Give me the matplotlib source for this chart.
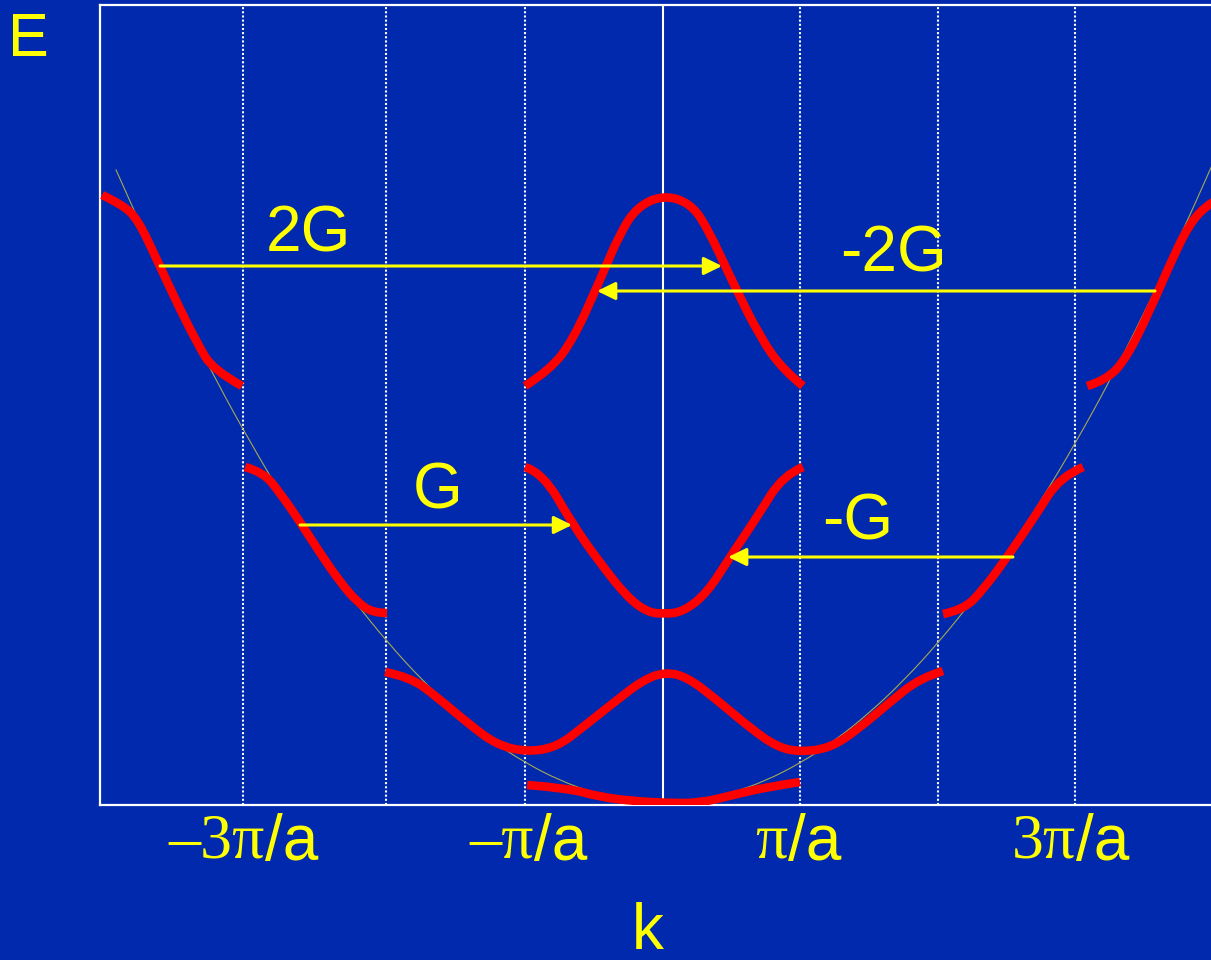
import matplotlib
matplotlib.use("Agg")
import matplotlib.pyplot as plt
import matplotlib.transforms as mtransforms
from matplotlib.path import Path
from matplotlib.patches import PathPatch

# k in units of pi/a, E in arbitrary units (free electron: E ~ k^2)
bg = '#0029AD'
red = '#FF0000'
yellow = '#FFFF00'

# free electron parabola
par_k = [-3.98, -3.75, -3.5, -3.25, -3.0, -2.75, -2.5, -2.25, -2.0, -1.75, -1.5, -1.25, -1.0,
         -0.75, -0.5, -0.25, 0.0, 0.25, 0.5, 0.75, 1.0, 1.25, 1.5, 1.75, 2.0, 2.25, 2.5,
         2.75, 3.0, 3.25, 3.5, 3.75, 4.0]
par_E = [15.84, 14.06, 12.25, 10.56, 9.0, 7.56, 6.25, 5.06, 4.0, 3.06, 2.25, 1.56, 1.0,
         0.56, 0.25, 0.06, 0.0, 0.06, 0.25, 0.56, 1.0, 1.56, 2.25, 3.06, 4.0, 5.06, 6.25,
         7.56, 9.0, 10.56, 12.25, 14.06, 16.0]

# band segments
b1_k = [-0.989, -0.698, -0.458, -0.218, 0.029, 0.269, 0.509, 0.756, 0.996]
b1_E = [0.45, 0.375, 0.15, 0.05, 0.0, 0.0, 0.2, 0.4, 0.525]

b2_k = [-2.022, -1.84, -1.644, -1.404, -1.207, -0.989, -0.771, -0.582, -0.335, -0.145, 0.015,
        0.175, 0.393, 0.633, 0.829, 0.996, 1.215, 1.411, 1.651, 1.869, 2.036]
b2_E = [3.275, 3.15, 2.65, 1.95, 1.45, 1.275, 1.4, 1.9, 2.575, 3.075, 3.275,
        3.15, 2.575, 1.875, 1.4, 1.275, 1.375, 1.825, 2.525, 3.125, 3.3]

b3l_k = [-3.04, -2.909, -2.785, -2.625, -2.495, -2.349, -2.225, -2.109, -2.007]
b3l_E = [8.4, 8.275, 7.75, 6.95, 6.25, 5.525, 5.025, 4.75, 4.75]
b3m_k = [-1.004, -0.873, -0.655, -0.458, -0.262, -0.116, 0.0, 0.145, 0.32, 0.487, 0.684, 0.873, 1.018]
b3m_E = [8.4, 8.25, 6.95, 6.0, 5.15, 4.775, 4.725, 4.775, 5.25, 6.15, 7.15, 8.2, 8.4]
b3r_k = [2.036, 2.182, 2.327, 2.524, 2.72, 2.887, 3.055]
b3r_E = [4.725, 4.825, 5.325, 6.25, 7.25, 8.15, 8.4]

b4l_k = [-4.08, -3.927, -3.818, -3.68, -3.535, -3.389, -3.273, -3.062]
b4l_E = [15.2, 14.95, 14.575, 13.575, 12.5, 11.5, 10.825, 10.425]
b4m_k = [-1.004, -0.822, -0.655, -0.458, -0.313, -0.189, 0.0, 0.196, 0.32, 0.509, 0.705, 0.873, 1.018]
b4m_E = [10.425, 10.825, 11.575, 13.075, 14.25, 14.9, 15.2, 15.0, 14.4, 13.0, 11.65, 10.825, 10.425]
b4r_k = [3.084, 3.229, 3.375, 3.542, 3.709, 3.833, 3.956, 4.015]
b4r_E = [10.425, 10.575, 11.15, 12.325, 13.65, 14.5, 14.95, 15.05]

bands = [(b1_k, b1_E), (b2_k, b2_E), (b3l_k, b3l_E), (b3m_k, b3m_E), (b3r_k, b3r_E),
         (b4l_k, b4l_E), (b4m_k, b4m_E), (b4r_k, b4r_E)]

# reciprocal lattice shifts: (start k, end k, E, label, label k, label E)
arrows = [(-3.658, 0.429, 13.425, '2G', -2.582, 14.2),
          (3.578, -0.48, 12.8, '-2G', 1.673, 13.7),
          (-2.64, -0.662, 6.95, 'G', -1.636, 7.775),
          (2.545, 0.473, 6.15, '-G', 1.418, 7.0)]

zone_lines = [-3.055, -2.015, -1.004, 0.996, 1.996, 2.996]
tick_serif = ['\u20133\u03c0', '\u2013\u03c0', '\u03c0', '3\u03c0']
tick_split = [-2.895, -0.94, 0.905, 3.0]


def smooth_path(k, E):
    # quadratic spline path through the read points (drawn by matplotlib)
    pts = list(zip(k, E))
    verts = [pts[0]]
    codes = [Path.MOVETO]
    for i in range(1, len(pts) - 1):
        if i < len(pts) - 2:
            end = ((pts[i][0] + pts[i + 1][0]) / 2, (pts[i][1] + pts[i + 1][1]) / 2)
        else:
            end = pts[-1]
        verts += [pts[i], end]
        codes += [Path.CURVE3, Path.CURVE3]
    if len(pts) == 2:
        verts.append(pts[1])
        codes.append(Path.LINETO)
    return Path(verts, codes)


fig = plt.figure(figsize=(12.11, 9.6), dpi=100, facecolor=bg)
ax = fig.add_axes([100 / 1211, 155 / 960, 1111 / 1211, 800 / 960])
ax.set_facecolor(bg)
ax.set_xlim(-4.095, 3.985)
ax.set_ylim(-0.05, 19.95)

for s in ['left', 'top', 'bottom']:
    ax.spines[s].set_color('white')
    ax.spines[s].set_linewidth(1.6)
ax.spines['right'].set_visible(False)
ax.set_xticks([])
ax.set_yticks([])

for z in zone_lines:
    ax.axvline(z, color='white', lw=1.5, ls=(0, (1, 1)), zorder=1)
ax.axvline(0, color='white', lw=1.5, zorder=1)

ax.add_patch(PathPatch(smooth_path(par_k, par_E), facecolor='none',
                       edgecolor='#A8A850', lw=0.8, zorder=2))

for k, E in bands:
    ax.add_patch(PathPatch(smooth_path(k, E), facecolor='none', edgecolor=red,
                           lw=6.2, capstyle='butt', joinstyle='round', zorder=3))

for k0, k1, E, lab, lk, lE in arrows:
    ax.annotate('', xy=(k1, E), xytext=(k0, E),
                arrowprops=dict(arrowstyle='-|>,head_length=0.55,head_width=0.27',
                                color=yellow, lw=2.2, shrinkA=0, shrinkB=0,
                                mutation_scale=20),
                zorder=4)
    ax.text(lk, lE, lab, color=yellow, fontsize=46, family='Liberation Sans',
            ha='center', va='center', zorder=5)

trans = mtransforms.blended_transform_factory(ax.transData, ax.transAxes)
for sp, txt in zip(tick_split, tick_serif):
    ax.text(sp, -0.0475, txt, transform=trans, color=yellow, fontsize=46,
            family='Liberation Serif', ha='right', va='center', clip_on=False)
    ax.text(sp, -0.0475, '/a', transform=trans, color=yellow, fontsize=46,
            family='Liberation Sans', ha='left', va='center', clip_on=False)

fig.text(28 / 1211, 1 - 40 / 960, 'E', color=yellow, fontsize=44,
         family='Liberation Sans', ha='center', va='center')
fig.text(648 / 1211, 1 - 932 / 960, 'k', color=yellow, fontsize=46,
         family='Liberation Sans', ha='center', va='center')

fig.savefig('out.png', dpi=100, facecolor=bg)
